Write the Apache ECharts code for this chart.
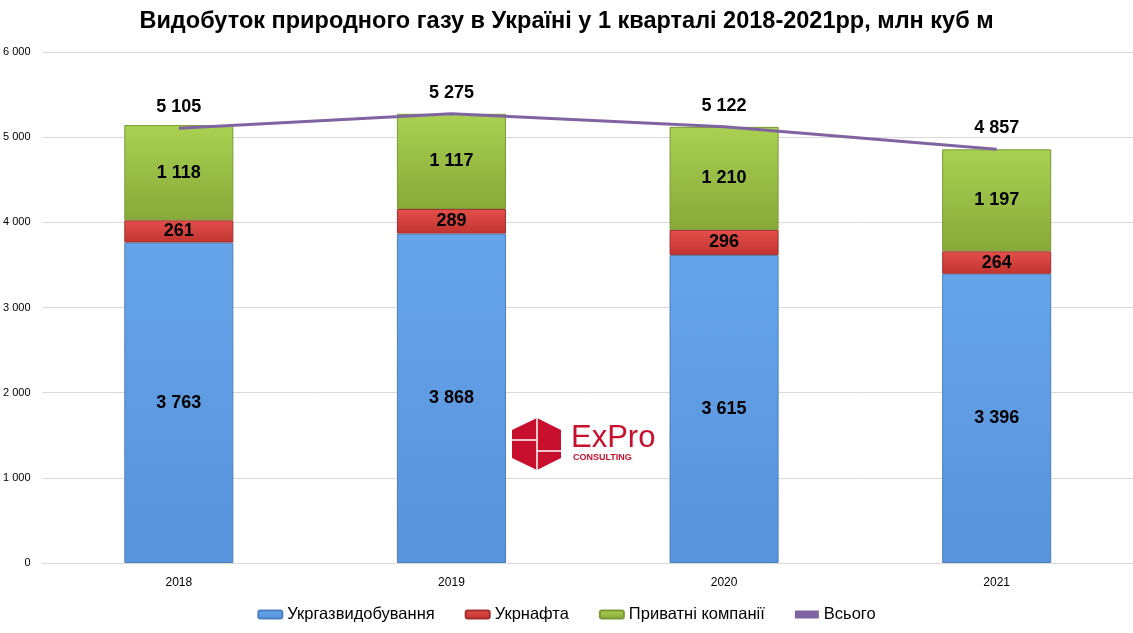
<!DOCTYPE html>
<html>
<head>
<meta charset="utf-8">
<script src="https://cdn.jsdelivr.net/npm/echarts@6/dist/echarts.min.js"></script>
<style>
html, body { margin: 0; padding: 0; background: #fff; }
#chart { width: 1133px; height: 633px; }
</style>
</head>
<body>
<div id="chart"></div>
<script>
var years = ['2018', '2019', '2020', '2021'];
var ukrgaz = [3763, 3868, 3615, 3396];
var ukrnafta = [261, 289, 296, 264];
var privat = [1118, 1117, 1210, 1197];
var total = [5105, 5275, 5122, 4857];
var yTicks = [0, 1000, 2000, 3000, 4000, 5000, 6000];

function fmt(v) {
    return String(v).replace(/\B(?=(\d{3})+(?!\d))/g, ' ');
}

function grad(top, bottom) {
    return {
        type: 'linear', x: 0, y: 0, x2: 0, y2: 1,
        colorStops: [{ offset: 0, color: top }, { offset: 1, color: bottom }]
    };
}

var font = '"Liberation Sans", Arial, sans-serif';
var segLabel = {
    show: true,
    position: 'inside',
    fontFamily: font,
    fontSize: 18,
    fontWeight: 'bold',
    color: '#000',
    formatter: function(p) { return fmt(p.value); }
};

var chart = echarts.init(document.getElementById('chart'));
var option = {
    animation: false,
    textStyle: { fontFamily: font },
    title: {
        text: 'Видобуток природного газу в Україні у 1 кварталі 2018-2021рр, млн куб м',
        left: 'center',
        top: 5,
        textStyle: { fontFamily: font, fontSize: 23.5, fontWeight: 'bold', color: '#000' }
    },
    legend: {
        bottom: 5,
        left: 'center',
        itemWidth: 24,
        itemHeight: 8,
        itemGap: 30,
        textStyle: { fontFamily: font, fontSize: 16.5, color: '#000' },
        data: ['Укргазвидобування', 'Укрнафта', 'Приватні компанії',
            { name: 'Всього', icon: 'rect', itemStyle: { color: '#8064a2' } }]
    },
    grid: { left: 42, right: 0, top: 52, bottom: 70, containLabel: false },
    xAxis: {
        type: 'category',
        data: years,
        axisTick: { show: false },
        axisLine: { lineStyle: { color: '#d9d9d9' } },
        axisLabel: { color: '#000', fontSize: 12, margin: 14 }
    },
    yAxis: {
        type: 'value',
        min: yTicks[0],
        max: yTicks[yTicks.length - 1],
        interval: 1000,
        axisLine: { show: false },
        axisTick: { show: false },
        splitLine: { lineStyle: { color: '#d9d9d9' } },
        axisLabel: { color: '#000', fontSize: 11, margin: 12, formatter: fmt }
    },
    // logo watermark
    graphic: [
        { type: 'polygon', shape: { points: [[537, 418], [561, 430], [561, 458], [537, 470], [512, 458], [512, 430]] },
          style: { fill: '#c8102e' } },
        { type: 'line', shape: { x1: 537, y1: 418, x2: 537, y2: 470 }, style: { stroke: '#fff', lineWidth: 1.5 } },
        { type: 'line', shape: { x1: 512, y1: 440, x2: 537, y2: 440 }, style: { stroke: '#fff', lineWidth: 1.5 } },
        { type: 'line', shape: { x1: 537, y1: 451, x2: 561, y2: 451 }, style: { stroke: '#fff', lineWidth: 1.5 } },
        { type: 'text', left: 571, top: 423, style: { text: 'ExPro', fill: '#c8102e', font: '31px "Liberation Sans", Arial' } },
        { type: 'text', left: 573, top: 453, style: { text: 'CONSULTING', fill: '#c8102e', font: 'bold 9px "Liberation Sans", Arial' } }
    ],
    series: [{
        name: 'Укргазвидобування',
        type: 'bar',
        stack: 'gas',
        barWidth: '40%',
        data: ukrgaz,
        itemStyle: { color: grad('#66a4ea', '#5893dc'), borderColor: '#4a7fc0', borderWidth: 1 },
        label: segLabel
    }, {
        name: 'Укрнафта',
        type: 'bar',
        stack: 'gas',
        data: ukrnafta,
        itemStyle: { color: grad('#e4504c', '#c0332f'), borderColor: '#a33030', borderWidth: 1 },
        label: segLabel
    }, {
        name: 'Приватні компанії',
        type: 'bar',
        stack: 'gas',
        data: privat,
        itemStyle: { color: grad('#a9d152', '#88a939'), borderColor: '#7a9a35', borderWidth: 1 },
        label: segLabel
    }, {
        name: 'Всього',
        type: 'line',
        data: total,
        symbol: 'circle',
        symbolSize: 0,
        z: 5,
        lineStyle: { color: '#8064a2', width: 3 },
        itemStyle: { color: '#8064a2' },
        label: {
            show: true,
            position: 'top',
            distance: 12,
            fontFamily: font,
            fontSize: 18,
            fontWeight: 'bold',
            color: '#000',
            formatter: function(p) { return fmt(p.value); }
        }
    }]
};
chart.setOption(option);
</script>
</body>
</html>
